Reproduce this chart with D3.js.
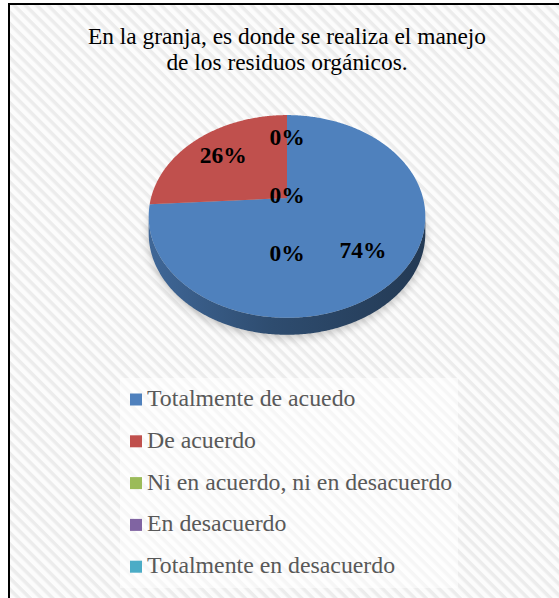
<!DOCTYPE html>
<html>
<head>
<meta charset="utf-8">
<script src="https://cdn.jsdelivr.net/npm/d3@7"></script>
<style>
    html, body { margin: 0; padding: 0; background: #fff; }
    svg { display: block; }
</style>
</head>
<body>
<div id="chart"></div>
<script>
// ========================
// Data
// ========================
const titleLines = ["En la granja, es donde se realiza el manejo", "de los residuos orgánicos."];
const categories = [
    "Totalmente de acuedo",
    "De acuerdo",
    "Ni en acuerdo, ni en desacuerdo",
    "En desacuerdo",
    "Totalmente en desacuerdo"
];
const values = [74, 26, 0, 0, 0];
const sliceColors = ["#4f81bd", "#c0504d", "#9bbb59", "#8064a2", "#4bacc6"];

// ========================
// Setup
// ========================
const width = 559;
const height = 598;

const cx = 287;      // pie centre on screen
const cy = 198;
const rx = 136;      // radii of the disc before perspective
const ry = 98;
const tilt = 0.182;  // perspective strength (front bigger than back)
const depth = 17;    // thickness of the disc
const labelRadius = 0.7;

const data = categories.map((c, i) => ({ label: c, value: values[i], color: sliceColors[i] }));
const total = d3.sum(data, d => d.value);

const pie = d3.pie()
    .sort(null)
    .value(d => d.value)
    .startAngle(0)
    .endAngle(2 * Math.PI);

const arcs = pie(data);

// angle measured clockwise from 12 o'clock, r as fraction of radius
function project(angle, r = 1, dy = 0) {
    const u = Math.sin(angle) * r;
    const v = -Math.cos(angle) * r;
    const s = 1 / (1 - tilt * v);
    return [cx + rx * u * s, cy + ry * v * s + dy];
}

function rimPoints(a0, a1, dy = 0) {
    const n = Math.max(2, Math.ceil((a1 - a0) / 0.01));
    return d3.range(n + 1).map(i => project(a0 + (a1 - a0) * i / n, 1, dy));
}

const line = d3.line();

const svg = d3.select("#chart")
    .append("svg")
    .attr("width", width)
    .attr("height", height);

const defs = svg.append("defs");

// diagonal stripes for the chart area
const stripes = defs.append("pattern")
    .attr("id", "stripes")
    .attr("patternUnits", "userSpaceOnUse")
    .attr("width", 8)
    .attr("height", 8)
    .attr("patternTransform", "rotate(45)");
stripes.append("rect").attr("width", 8).attr("height", 8).attr("fill", "#fcfcfc");
stripes.append("rect").attr("width", 8).attr("height", 3.5).attr("fill", "#ececec");

defs.append("filter")
    .attr("id", "blur")
    .attr("x", "-20%").attr("y", "-20%")
    .attr("width", "140%").attr("height", "140%")
    .append("feGaussianBlur")
    .attr("stdDeviation", 5);

// ========================
// Frame + background
// ========================
svg.append("rect")
    .attr("width", width)
    .attr("height", height)
    .attr("fill", "#fff");

svg.append("rect")
    .attr("x", 9)
    .attr("y", 4)
    .attr("width", width + 20)
    .attr("height", height + 20)
    .attr("fill", "url(#stripes)")
    .attr("stroke", "#000")
    .attr("stroke-width", 2);

// ========================
// Title
// ========================
const title = svg.append("text")
    .attr("text-anchor", "middle")
    .style("font-family", "'Liberation Serif', 'Times New Roman', serif")
    .style("font-size", "23.4px")
    .attr("fill", "#000");

titleLines.forEach((t, i) => {
    title.append("tspan")
        .attr("x", cx)
        .attr("y", 44 + i * 26)
        .text(t);
});

// ========================
// Pie (3D look)
// ========================
const pieGroup = svg.append("g");

// soft shadow under the disc
pieGroup.append("path")
    .attr("d", line(rimPoints(0, 2 * Math.PI, depth + 3)) + "Z")
    .attr("fill", "#000")
    .attr("opacity", 0.22)
    .attr("filter", "url(#blur)");

// sides: only the front part of the rim is visible
const frontStart = Math.acos(-tilt);
const frontEnd = 2 * Math.PI - frontStart;

arcs.forEach((d, i) => {
    const lo = Math.max(d.startAngle, frontStart);
    const hi = Math.min(d.endAngle, frontEnd);
    if (d.value === 0 || lo >= hi) return;

    const base = d3.color(d.data.color);
    const grad = defs.append("linearGradient")
        .attr("id", "side" + i)
        .attr("gradientUnits", "userSpaceOnUse")
        .attr("x1", cx - rx * 1.05).attr("x2", cx + rx * 1.05)
        .attr("y1", 0).attr("y2", 0);
    grad.append("stop").attr("offset", "0%").attr("stop-color", base.darker(0.6));
    grad.append("stop").attr("offset", "45%").attr("stop-color", base.darker(1.5));
    grad.append("stop").attr("offset", "100%").attr("stop-color", base.darker(2.3));

    const top = rimPoints(lo, hi);
    const bottom = rimPoints(lo, hi, depth).reverse();
    pieGroup.append("path")
        .attr("d", line(top.concat(bottom)) + "Z")
        .attr("fill", "url(#side" + i + ")");
});

// top faces
arcs.forEach(d => {
    if (d.value === 0) return;
    const pts = [[cx, cy]].concat(rimPoints(d.startAngle, d.endAngle));
    pieGroup.append("path")
        .attr("d", line(pts) + "Z")
        .attr("fill", d.data.color);
});

// ========================
// Data labels
// ========================
const labelH = 22;
const stackStep = 58;
const placed = [];

arcs.forEach(d => {
    const mid = (d.startAngle + d.endAngle) / 2;
    let [x, y] = project(mid, labelRadius);
    const text = Math.round(d.value / total * 100) + "%";
    const w = text.length * 12;

    // push overlapping labels downward
    const hits = () => placed.some(p => Math.abs(p.x - x) < (p.w + w) / 2 && Math.abs(p.y - y) < labelH);
    while (hits()) y += stackStep;
    placed.push({ x, y, w });

    svg.append("text")
        .attr("x", x)
        .attr("y", y)
        .attr("dy", "0.35em")
        .attr("text-anchor", "middle")
        .style("font-family", "'Liberation Serif', 'Times New Roman', serif")
        .style("font-size", "23.5px")
        .style("font-weight", "bold")
        .attr("fill", "#000")
        .text(text);
});

// ========================
// Legend
// ========================
const legendX = 130;
const legendY = 406;
const legendStep = 41.8;

svg.append("rect")
    .attr("x", 120)
    .attr("y", 378)
    .attr("width", 338)
    .attr("height", 210)
    .attr("fill", "#fff")
    .attr("opacity", 0.5);

const legend = svg.append("g");

data.forEach((d, i) => {
    const row = legend.append("g")
        .attr("transform", `translate(${legendX}, ${legendY + i * legendStep})`);

    row.append("rect")
        .attr("x", 0)
        .attr("y", -12.5)
        .attr("width", 12)
        .attr("height", 12)
        .attr("fill", d.color);

    row.append("text")
        .attr("x", 17)
        .attr("y", 0)
        .style("font-family", "'Liberation Serif', 'Times New Roman', serif")
        .style("font-size", "23.8px")
        .attr("fill", "#595959")
        .text(d.label);
});
</script>
</body>
</html>
